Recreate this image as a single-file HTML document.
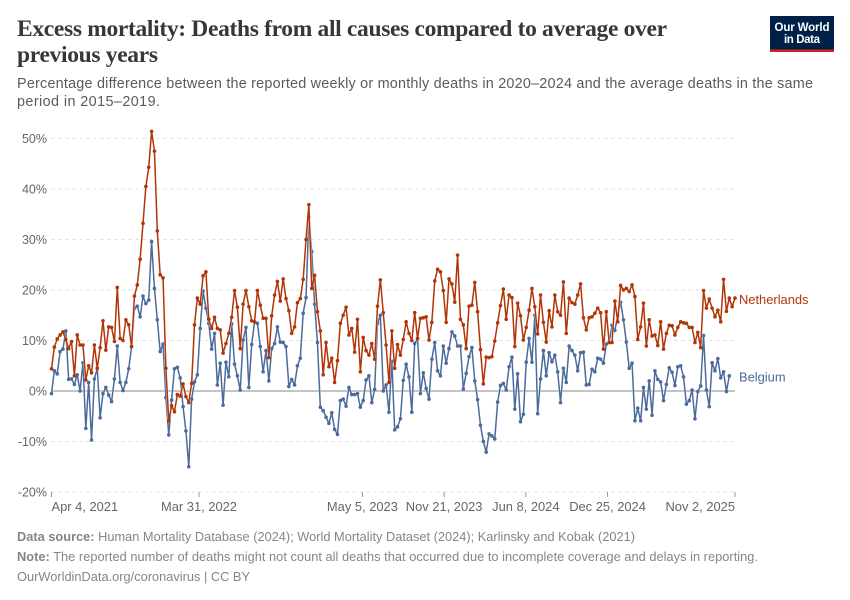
<!DOCTYPE html>
<html lang="en">
<head>
<meta charset="utf-8">
<title>Excess mortality chart</title>
<style>
html,body{margin:0;padding:0;background:#fff;}
svg{display:block;font-family:"Liberation Sans",sans-serif;}
</style>
</head>
<body>
<svg id="chart" width="850" height="600" viewBox="0 0 850 600" xmlns="http://www.w3.org/2000/svg">
  <rect x="0" y="0" width="850" height="600" fill="#ffffff"/>
  <g font-family="'Liberation Serif',serif" font-weight="700" font-size="23.5" fill="#373737">
    <text x="17" y="36" textLength="650" lengthAdjust="spacing">Excess mortality: Deaths from all causes compared to average over</text>
    <text x="17" y="62" textLength="141" lengthAdjust="spacing">previous years</text>
  </g>
  <g font-size="14.4" fill="#5b5b5b">
    <text x="17" y="88" textLength="796" lengthAdjust="spacing">Percentage difference between the reported weekly or monthly deaths in 2020–2024 and the average deaths in the same</text>
    <text x="17" y="106" textLength="143" lengthAdjust="spacing">period in 2015–2019.</text>
  </g>
  <a>
    <rect x="770" y="16" width="64" height="36" fill="#002147"/>
    <rect x="770" y="49.5" width="64" height="2.5" fill="#ce261e"/>
    <text x="802" y="31" text-anchor="middle" font-size="11.5" font-weight="700" fill="#ffffff" textLength="55" lengthAdjust="spacing">Our World</text>
    <text x="802" y="43" text-anchor="middle" font-size="11.5" font-weight="700" fill="#ffffff" textLength="36" lengthAdjust="spacing">in Data</text>
  </a>
  <g id="y-axis"></g>
  <g id="x-axis"></g>
  <g id="series"></g>
  <g font-size="12.8" fill="#858585">
    <text x="17" y="541" textLength="618" lengthAdjust="spacing"><tspan font-weight="700">Data source:</tspan> Human Mortality Database (2024); World Mortality Dataset (2024); Karlinsky and Kobak (2021)</text>
    <text x="17" y="561" textLength="741" lengthAdjust="spacing"><tspan font-weight="700">Note:</tspan> The reported number of deaths might not count all deaths that occurred due to incomplete coverage and delays in reporting.</text>
    <text x="17" y="581" textLength="233" lengthAdjust="spacing">OurWorldinData.org/coronavirus | CC BY</text>
  </g>
</svg>
<script>
const startDate = "2021-04-04";
const endDate = "2025-11-02";
const weekStepDays = 7;
const yTicks = [-20, -10, 0, 10, 20, 30, 40, 50];
const xTickDates = ["2021-04-04", "2022-03-31", "2023-05-05", "2023-11-21", "2024-06-08", "2024-12-25", "2025-11-02"];
const xTickLabels = ["Apr 4, 2021", "Mar 31, 2022", "May 5, 2023", "Nov 21, 2023", "Jun 8, 2024", "Dec 25, 2024", "Nov 2, 2025"];
const netherlandsValues = [
  4.4,8.7,10.3,11.1,11.7,10.2,8.4,9.8,3.0,11.1,
  9.1,9.1,2.2,5.0,3.6,9.1,4.5,8.6,13.9,8.1,
  12.7,12.6,9.8,20.5,10.4,10.0,14.1,13.1,8.8,18.8,
  21.0,26.1,33.2,40.5,44.3,51.4,47.5,31.7,23.0,22.4,
  4.5,-5.9,-2.9,-4.1,-0.7,-1.0,1.4,-1.1,-2.3,1.5,
  13.1,18.4,17.2,22.8,23.6,14.2,12.4,14.6,12.4,12.1,
  7.5,9.4,11.4,14.6,19.9,16.6,8.4,17.2,19.9,16.7,
  13.9,13.7,19.9,17.0,14.4,14.4,6.6,14.9,19.0,21.7,
  17.8,22.2,18.3,15.9,11.4,12.7,17.5,18.3,22.1,30.0,
  36.9,20.3,22.9,15.7,11.9,3.2,9.6,4.8,6.5,1.7,
  6.0,13.4,15.0,16.6,11.1,12.4,7.7,14.2,3.8,10.6,
  8.0,7.1,9.4,6.3,16.8,22.0,15.5,9.1,1.7,11.9,
  4.5,9.2,7.1,10.2,13.7,11.4,10.0,15.5,10.4,14.4,
  14.5,14.7,10.1,13.6,21.8,24.1,23.6,19.9,13.6,22.2,
  21.2,17.6,26.9,14.2,13.1,8.4,16.8,17.0,21.5,15.7,
  8.2,1.4,6.7,6.6,6.8,9.9,13.5,16.9,20.2,14.2,
  19.0,18.5,8.8,17.4,14.9,10.1,12.6,16.0,20.3,16.7,
  11.3,19.0,13.6,9.7,15.9,12.7,19.0,15.7,15.0,21.6,
  11.4,18.4,17.5,17.2,19.0,21.2,14.5,12.1,14.5,14.7,
  15.4,16.4,15.5,8.3,15.7,9.6,9.6,17.8,13.7,20.9,
  20.0,20.3,19.7,21.0,18.7,10.2,12.7,17.4,8.9,14.1,
  10.9,11.1,9.0,13.7,8.3,11.4,13.0,12.9,11.1,12.6,
  13.7,13.5,13.4,12.6,12.6,9.6,11.6,8.6,19.9,16.4,
  18.2,16.4,14.7,16.0,13.7,22.1,15.8,18.4,16.7,18.4
];
const belgiumValues = [
  -0.5,4.0,3.4,7.8,8.3,11.9,2.3,2.4,1.3,3.2,
  0,5.6,-7.4,1.7,-9.7,2.4,4.5,-5.3,-0.5,0.7,
  -0.8,-2.1,2.4,8.9,1.7,0.1,1.7,4.4,8.8,16.4,
  16.8,14.7,18.8,17.3,18.0,29.6,20.3,14.1,7.8,9.3,
  -1.3,-8.7,-1.8,4.4,4.7,2.6,-3.1,-7.9,-15.0,-1.6,
  1.8,3.2,12.4,19.8,16.4,13.4,8.3,11.4,1.2,5.5,
  -2.8,5.7,2.8,13.3,5.3,3.0,0.2,10.1,12.6,0.7,
  9.2,13.7,13.4,8.8,3.8,8.0,2.0,8.4,9.4,12.7,
  9.7,9.6,8.8,0.9,2.3,1.2,5.0,6.5,15.4,18.5,
  34.5,27.6,17.2,9.6,-3.2,-3.9,-5.2,-6.4,-4.3,-7.6,
  -8.6,-1.9,-1.6,-3.0,0.7,-0.7,-0.7,-0.5,-3.2,-1.9,
  2.2,3.0,-2.3,0.3,13.4,15.0,0,1.2,-4.2,5.9,
  -7.7,-7.1,-5.5,2.1,5.3,2.8,-4.2,9.4,10.4,-0.5,
  3.6,0.5,-1.6,6.3,9.6,4.0,3.0,8.9,5.5,8.4,
  11.7,10.9,8.9,8.9,0.4,3.5,6.8,8.6,2.0,-1.7,
  -6.8,-10.0,-12.1,-8.5,-8.9,-9.5,-2.2,1.1,1.5,0.2,
  4.8,6.7,-3.6,3.4,-6.1,-4.6,5.7,10.4,5.7,15.0,
  -4.5,2.4,8.0,3.0,7.6,5.8,7.1,3.8,-2.3,4.5,
  1.7,8.9,8.0,7.1,4.0,7.6,7.7,1.2,1.3,4.3,
  3.8,6.5,6.3,5.5,9.3,9.6,13.0,12.0,15.0,17.6,
  14.1,9.7,4.5,5.5,-5.9,-3.4,-5.9,0.7,-3.6,2.0,
  -4.8,4.0,2.3,1.8,-1.9,1.3,4.6,3.7,1.1,4.8,
  5.0,2.8,-2.6,-1.9,0.2,-5.5,-0.1,1.0,11.0,0.2,
  -3.1,5.6,4.0,6.4,2.6,3.8,-0.1,3.0
];

const NS = "http://www.w3.org/2000/svg";
const plotLeft = 51.5, plotRight = 735, plotZeroY = 391, pxPerPct = 5.05;
const t0 = Date.parse(startDate), t1 = Date.parse(endDate);
function xScale(ms) { return plotLeft + (plotRight - plotLeft) * (ms - t0) / (t1 - t0); }
function xOfIndex(i) { return xScale(t0 + i * weekStepDays * 86400000); }
function yScale(v) { return plotZeroY - v * pxPerPct; }
function make(tag, attrs, parent) {
  const el = document.createElementNS(NS, tag);
  for (const k in attrs) el.setAttribute(k, attrs[k]);
  parent.appendChild(el);
  return el;
}

const yAxis = document.getElementById("y-axis");
yTicks.forEach(function (v) {
  const line = make("line", {x1: plotLeft, x2: plotRight, y1: yScale(v), y2: yScale(v),
    stroke: v === 0 ? "#a1a1a1" : "#dddddd", "stroke-width": v === 0 ? 1.2 : 1,
    "stroke-dasharray": v === 0 ? "none" : "3,4"}, yAxis);
  
  
  const label = make("text", {x: 47, y: yScale(v) + 4.5, "text-anchor": "end", "font-size": 12.5, fill: "#666666"}, yAxis);
  
  
  label.textContent = v + "%";
});

const xAxis = document.getElementById("x-axis");
xTickDates.forEach(function (d, i) {
  const x = xScale(Date.parse(d));
  const tick = make("line", {x1: x, x2: x, y1: yScale(-20), y2: yScale(-20) + 5, stroke: "#999999", "stroke-width": 1}, xAxis);
  
  
  const anchor = i === 0 ? "start" : (i === xTickDates.length - 1 ? "end" : "middle");
  const label = make("text", {x: x, y: 511, "text-anchor": anchor, "font-size": 12.9, fill: "#666666"}, xAxis);
  
  
  label.textContent = xTickLabels[i];
});

const seriesRoot = document.getElementById("series");
function drawSeries(values, color, name) {
  const g = make("g", {}, seriesRoot);
  
  
  const pts = values.map(function (v, i) { return xOfIndex(i).toFixed(2) + "," + yScale(v).toFixed(2); }).join(" ");
  const halo = make("polyline", {points: pts, fill: "none", stroke: "#ffffff", "stroke-width": 2.5, "stroke-linejoin": "round", opacity: 0.6}, g);
  
  
  const line = make("polyline", {points: pts, fill: "none", stroke: color, "stroke-width": 1.5, "stroke-linejoin": "round"}, g);
  
  
  values.forEach(function (v, i) {
    const dot = make("circle", {cx: xOfIndex(i), cy: yScale(v), r: 1.8, fill: color}, g);
    
    
  });
}
drawSeries(belgiumValues, "#4c6a9c", "belgium");
drawSeries(netherlandsValues, "#b13507", "netherlands");

const belgiumLabel = make("text", {x: 739, y: 381.5, "font-size": 12.9, fill: "#4c6a9c"}, seriesRoot);


belgiumLabel.textContent = "Belgium";
const netherlandsLabel = make("text", {x: 739, y: 304, "font-size": 12.9, fill: "#b13507"}, seriesRoot);


netherlandsLabel.textContent = "Netherlands";
</script>
</body>
</html>
